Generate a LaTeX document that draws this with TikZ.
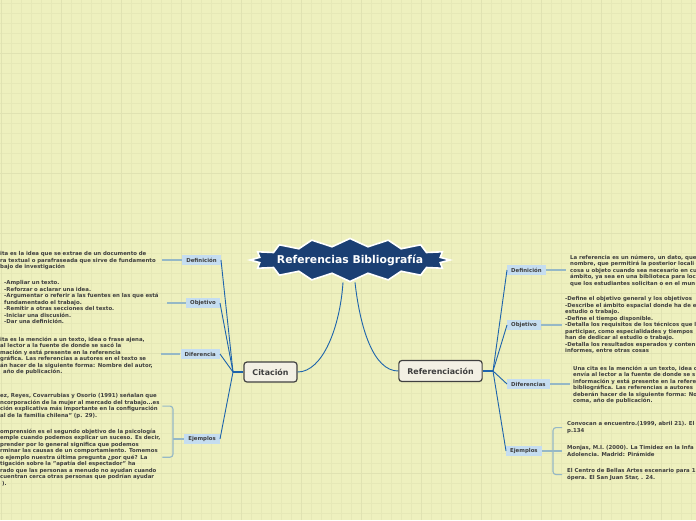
\documentclass[tikz,border=0pt]{standalone}
\usepackage{fontspec}
\setmainfont{DejaVu Sans}
\usetikzlibrary{shapes.symbols}
\definecolor{mapBg}{RGB}{238,240,190}
\definecolor{mapGrid}{RGB}{230,232,183}
\definecolor{mapGridB}{RGB}{224,226,178}
\definecolor{mapStar}{RGB}{27,63,115}
\definecolor{mapLine}{RGB}{30,100,172}
\definecolor{mapLeaf}{RGB}{150,184,198}
\definecolor{mapSub}{RGB}{197,221,240}
\definecolor{mapTxt}{RGB}{62,62,62}
\definecolor{mapBox}{RGB}{243,240,228}

\begin{document}
\begin{tikzpicture}[x=1pt,y=-1pt,
  root/.style={starburst,starburst points=16,starburst point height=8pt,random starburst=0,
     fill=mapStar,draw=white,line width=1.6pt,text=white,font=\fontsize{10.8}{12}\selectfont\bfseries,
     minimum height=43pt,inner xsep=-8pt,inner ysep=0pt},
  topic/.style={draw=black!75,fill=mapBox,line width=1.2pt,rounded corners=3pt,text=mapTxt,
     font=\fontsize{7.9}{9}\selectfont\bfseries,minimum height=20pt,inner xsep=8.5pt,inner ysep=0pt},
  sub/.style={fill=mapSub,text=mapTxt,font=\fontsize{5.4}{6}\selectfont\bfseries,
     minimum height=10.5pt,inner xsep=4pt,inner ysep=0pt},
  note/.style={text=mapTxt,font=\fontsize{5.4}{6.5}\selectfont\bfseries,align=left,inner sep=0pt},
  branch/.style={draw=mapLine,line width=0.9pt},
  hubline/.style={draw=mapLine,line width=2.2pt},
  leaf/.style={draw=mapLeaf,line width=1.1pt}]
\useasboundingbox (0,0) rectangle (696,520);
\fill[mapBg] (0,0) rectangle (696,520);
\foreach \gx in {1.7,11.7,...,696} \draw[mapGrid,line width=0.7pt] (\gx,0) -- (\gx,520);
\foreach \gy in {3.3,13.3,...,520} \draw[mapGrid,line width=0.7pt] (0,\gy) -- (696,\gy);
\foreach \gx in {1.7,61.7,...,696} \draw[mapGridB,line width=0.9pt] (\gx,0) -- (\gx,520);
\foreach \gy in {53.3,113.3,...,520} \draw[mapGridB,line width=0.9pt] (0,\gy) -- (696,\gy);

\node[root] (root) at (350,260) {Referencias Bibliografía};
\node[topic] (cit) at (270.5,372) {Citación};
\node[topic,minimum height=21pt] (ref) at (440.5,371) {Referenciación};
\coordinate (citHub) at (233,372);
\coordinate (refHub) at (493,371);

\node[sub,anchor=east] (defL) at (221,260) {Definición};
\node[sub,anchor=east] (objL) at (220,303) {Objetivo};
\node[sub,anchor=east] (difL) at (220,354) {Diferencia};
\node[sub,anchor=east] (ejeL) at (220,439) {Ejemplos};
\node[sub,anchor=west] (defR) at (507,270) {Definición};
\node[sub,anchor=west] (objR) at (507,325) {Objetivo};
\node[sub,anchor=west] (difR) at (507,384) {Diferencias};
\node[sub,anchor=west] (ejeR) at (506,451) {Ejemplos};

\node[note,anchor=north west,text width=162pt] (defTL) at (0,251.5) {ita es la idea que se extrae de un documento de\\
ra textual o parafraseada que sirve de fundamento\\
bajo de investigación};
\node[note,anchor=north west,text width=163pt] (objTL) at (4,280.5) {-Ampliar un texto.\\
-Reforzar o aclarar una idea.\\
-Argumentar o referir a las fuentes en las que está\\
fundamentado el trabajo.\\
-Remitir a otras secciones del texto.\\
-Iniciar una discusión.\\
-Dar una definición.};
\node[note,anchor=north west,text width=161pt] (difTL) at (0,336.5) {ita es la mención a un texto, idea o frase ajena,\\
al lector a la fuente de donde se sacó la\\
mación y está presente en la referencia\\
gráfica. Las referencias a autores en el texto se\\
án hacer de la siguiente forma: Nombre del autor,\\
\hspace*{3pt}año de publicación.};
\node[note,anchor=north west,text width=162pt] (ejA) at (0,393.5) {ez, Reyes, Covarrubias y Osorio (1991) señalan que\\
ncorporación de la mujer al mercado del trabajo...es\\
ción explicativa más importante en la configuración\\
al de la familia chilena" (p. 29).};
\node[note,anchor=north west,text width=162pt] (ejB) at (0,428.5) {omprensión es el segundo objetivo de la psicología\\
emple cuando podemos explicar un suceso. Es decir,\\
prender por lo general significa que podemos\\
rminar las causas de un comportamiento. Tomemos\\
o ejemplo nuestra última pregunta ¿por qué? La\\
tigación sobre la "apatía del espectador" ha\\
rado que las personas a menudo no ayudan cuando\\
cuentran cerca otras personas que podrían ayudar\\
\hspace*{2pt}).};

\node[note,anchor=north west] (defTR) at (570,254.5) {La referencia es un número, un dato, que\\
nombre, que permitirá la posterior locali\\
cosa u objeto cuando sea necesario en cu\\
ámbito, ya sea en una biblioteca para loc\\
que los estudiantes solicitan o en el mun};
\node[note,anchor=north west] (objTR) at (565,296.5) {-Define el objetivo general y los objetivos\\
-Describe el ámbito espacial donde ha de e\\
estudio o trabajo.\\
-Define el tiempo disponible.\\
-Detalla los requisitos de los técnicos que l\\
participar, como especialidades y tiempos\\
han de dedicar al estudio o trabajo.\\
-Detalla los resultados esperados y conten\\
informes, entre otras cosas};
\node[note,anchor=north west] (difTR) at (573,365.5) {Una cita es la mención a un texto, idea o\\
envía al lector a la fuente de donde se s\\
información y está presente en la refere\\
bibliográfica. Las referencias a autores\\
deberán hacer de la siguiente forma: No\\
coma, año de publicación.};
\node[note,anchor=north west] (ejT1) at (567,421.5) {Convocan a encuentro.(1999, abril 21). El\\
p.134};
\node[note,anchor=north west] (ejT2) at (567,445.5) {Monjas, M.I. (2000). La Timidez en la Infa\\
Adolencia. Madrid: Pirámide};
\node[note,anchor=north west] (ejT3) at (567,468.5) {El Centro de Bellas Artes escenario para 1\\
ópera. El San Juan Star, . 24.};

\draw[branch] ([xshift=-7pt]root.south) .. controls +(-3,45) and +(25,0) .. (cit.east);
\draw[branch] ([xshift=5pt]root.south) .. controls +(5,45) and +(-25,0) .. (ref.west);
\draw[hubline] (cit.west) -- (citHub);
\draw[hubline] (ref.east) -- (refHub);
\foreach \s in {defL,objL,difL,ejeL} \draw[branch] (citHub) -- (\s.east);
\foreach \s in {defR,objR,difR,ejeR} \draw[branch] (refHub) -- (\s.west);

\draw[leaf] (defTL.east |- defL.west) -- (defL.west);
\draw[leaf] (objTL.east |- objL.west) -- (objL.west);
\draw[leaf] (difTL.east |- difL.west) -- (difL.west);
\coordinate (ejbL) at (173,439);
\draw[leaf,rounded corners=3pt] (ejA.east) -| (ejbL) |- (ejB.east);
\draw[leaf] (ejbL) -- (ejeL.west);

\draw[leaf,shorten >=4pt] (defR.east) -- (defR.east -| defTR.west);
\draw[leaf,shorten >=3pt] (objR.east) -- (objR.east -| objTR.west);
\draw[leaf,shorten >=3pt] (difR.east) -- (difR.east -| difTR.west);
\coordinate (ejbR) at (553,451);
\draw[leaf,rounded corners=3pt,shorten <=5pt,shorten >=5pt] (ejT1.west) -| (ejbR) |- (ejT3.west);
\draw[leaf,shorten >=5pt] (ejeR.east) -- (ejeR.east -| ejT2.west);
\end{tikzpicture}
\end{document}
